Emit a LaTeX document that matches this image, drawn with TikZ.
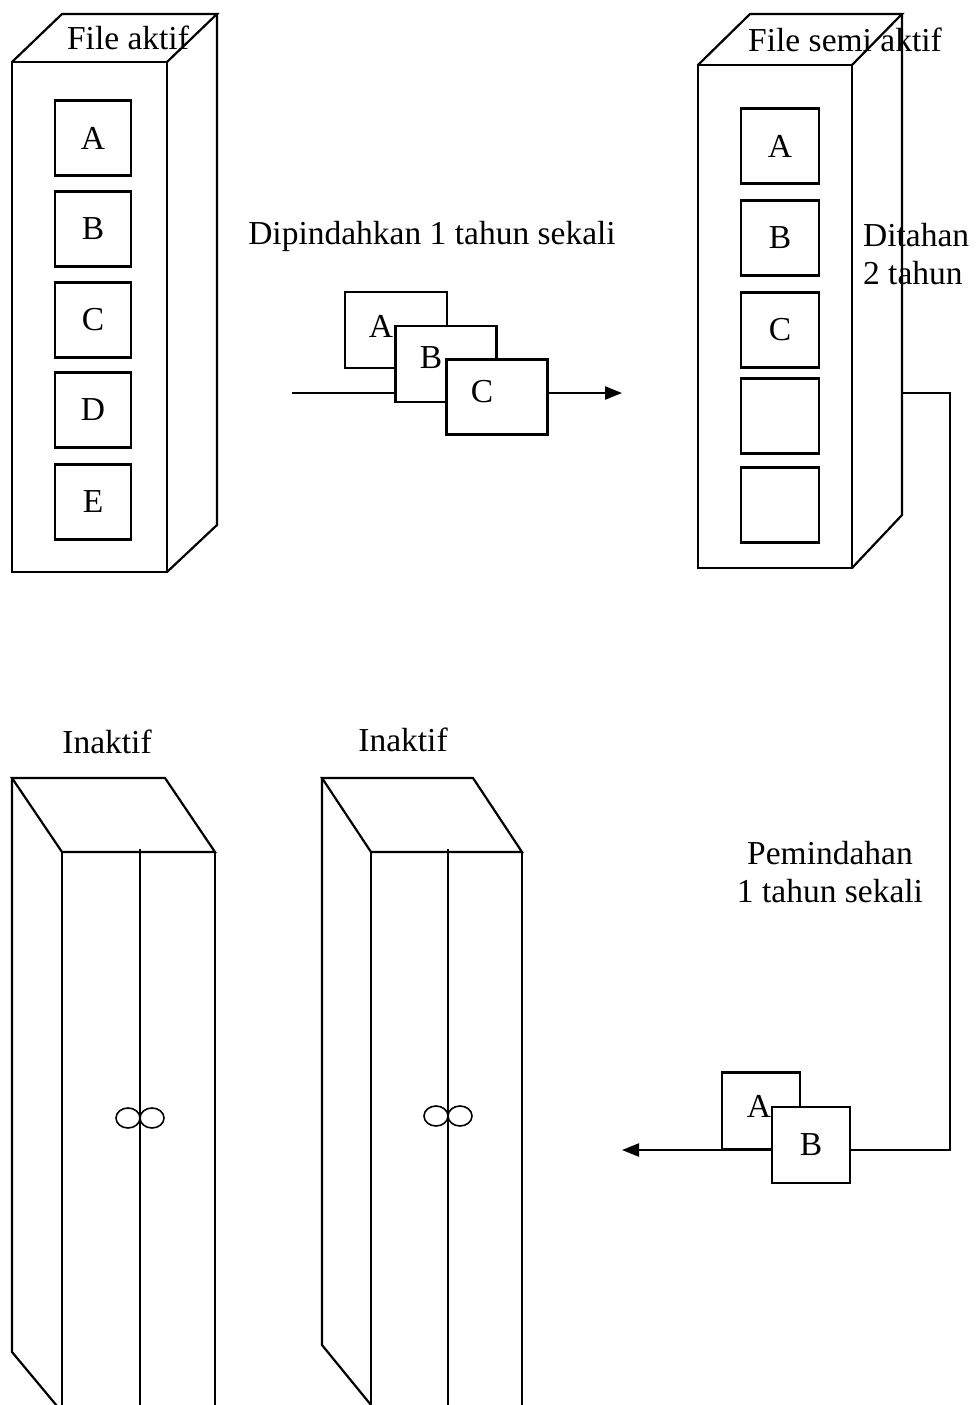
\documentclass[tikz,border=0pt]{standalone}
\usepackage{fontspec}
\setmainfont{Liberation Serif}
\usetikzlibrary{arrows.meta}
\begin{document}
\begin{tikzpicture}[x=1pt,y=-1pt, line width=2.2pt, line join=miter,
  lbl/.style={font=\fontsize{33.5}{38}\selectfont, inner sep=0pt},
  filebox/.style={draw, fill=white, inner sep=0pt},
  handle/.style={line width=1.6pt},
  conn/.style={line width=2.2pt, -{Triangle[length=17pt,width=13pt]}}]
\useasboundingbox (0,0) rectangle (975,1405);
\clip (0,0) rectangle (975,1405);

% ---- Active file cabinet ----
\draw (12,62) rectangle (167,572);
\draw (12,62) -- (62,14) -- (217,14) -- (167,62);
\draw (217,14) -- (217,525) -- (167,572);
\foreach \n/\y/\t in {a1/138/A, b1/229/B, c1/320/C, d1/410/D, e1/502/E}
  \node[filebox, lbl, minimum width=76pt, minimum height=75pt] (\n) at (93,\y) {\t};
\node[lbl] (tAktif) at (128,38) {File aktif};

% ---- Semi-active file cabinet ----
\draw (698,65) rectangle (852,568);
\draw (698,65) -- (750,14) -- (902,14) -- (852,65);
\draw (902,14) -- (902,515) -- (852,568);
\foreach \n/\y/\t in {a2/146/A, b2/238/B, c2/330/C, d2/416/{}, e2/505/{}}
  \node[filebox, lbl, minimum width=78pt, minimum height=75pt] (\n) at (780,\y) {\t};
\node[lbl] (tSemi) at (845,40) {File semi aktif};
\node[lbl, anchor=west, align=left] (tDitahan) at (862,254) {Ditahan\\2 tahun};

% ---- Middle transfer arrow ----
\coordinate (mStart) at (292,393);
\coordinate (mEnd) at (622,393);
\draw[conn] (mStart) -- (mEnd);
\node[filebox, minimum width=102pt, minimum height=76pt] (mA) at (396,330) {};
\node[lbl] (mAl) at (381,326) {A};
\node[filebox, minimum width=101pt, minimum height=76pt] (mB) at (446,364) {};
\node[lbl] (mBl) at (431,358) {B};
\node[filebox, minimum width=101pt, minimum height=75pt] (mC) at (497,397) {};
\node[lbl] (mCl) at (482,392) {C};
\node[lbl] (tDipindah) at (432,236) {Dipindahkan 1 tahun sekali};

% ---- Right/bottom transfer arrow ----
\coordinate (sOut) at (902,393);
\coordinate (bEnd) at (622,1150);
\draw[conn] (sOut) -- (950,393) -- (950,1150) -- (bEnd);
\node[filebox, minimum width=78pt, minimum height=77pt] (bA) at (761,1111) {};
\node[lbl] (bAl) at (759,1106) {A};
\node[filebox, lbl, minimum width=78pt, minimum height=76pt] (bB) at (811,1145) {B};
\node[lbl, align=center] (tPemindahan) at (830,872) {Pemindahan\\1 tahun sekali};

% ---- Inactive cabinet 1 ----
\node[lbl] (tIn1) at (107,742) {Inaktif};
\draw (62,852) -- (12,778) -- (165,778) -- (215,852) -- cycle;
\draw (12,778) -- (12,1352) -- (62,1412);
\draw (62,852) -- (62,1420);
\draw (215,852) -- (215,1420);
\draw (140,849) -- (140,1420);
\draw[handle] (128,1118) ellipse (12 and 10);
\draw[handle] (152,1118) ellipse (12 and 10);

% ---- Inactive cabinet 2 ----
\node[lbl] (tIn2) at (403,740) {Inaktif};
\draw (371,852) -- (322,778) -- (473,778) -- (522,852) -- cycle;
\draw (322,778) -- (322,1345) -- (371,1405);
\draw (371,852) -- (371,1420);
\draw (522,852) -- (522,1420);
\draw (448,849) -- (448,1420);
\draw[handle] (436,1116) ellipse (12 and 10);
\draw[handle] (460,1116) ellipse (12 and 10);
\end{tikzpicture}
\end{document}
